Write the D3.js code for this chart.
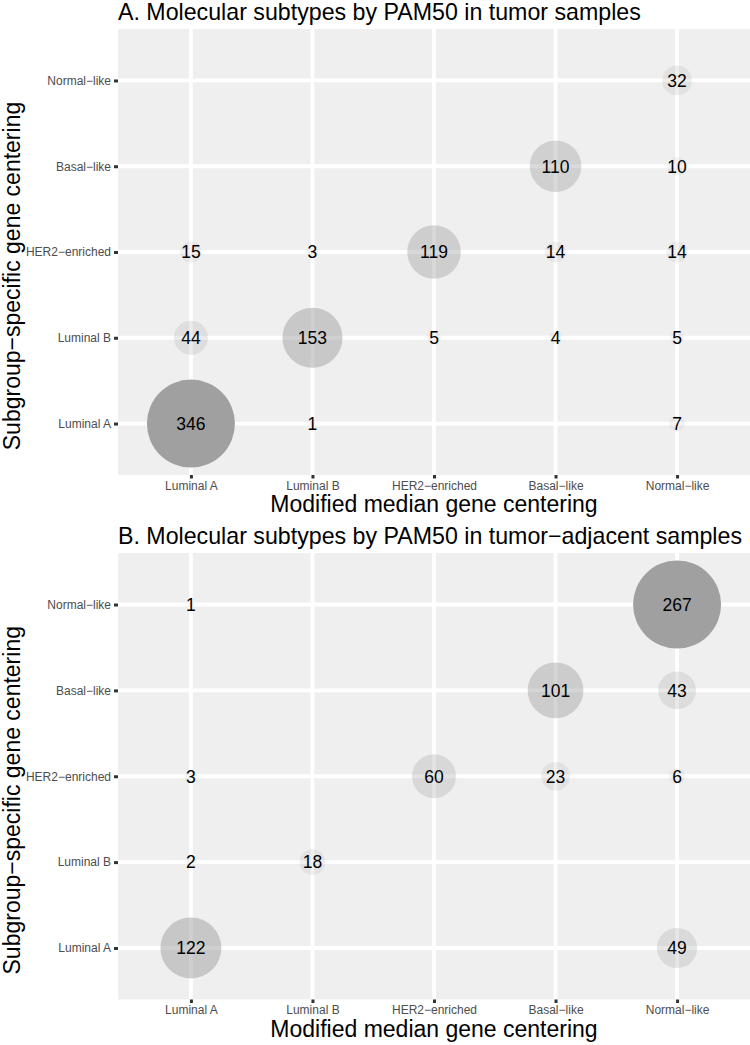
<!DOCTYPE html>
<html><head><meta charset="utf-8">
<script src="https://cdn.jsdelivr.net/npm/d3@7/dist/d3.min.js"></script>
<style>body{margin:0;background:#fff}svg{display:block}</style>
</head><body>
<script>
const categories = ["Luminal A", "Luminal B", "HER2\u2212enriched", "Basal\u2212like", "Normal\u2212like"];
const titles = ["A. Molecular subtypes by PAM50 in tumor samples",
                "B. Molecular subtypes by PAM50 in tumor\u2212adjacent samples"];
const xTitle = "Modified median gene centering";
const yTitle = "Subgroup\u2212specific gene centering";
// [x category index, y category index, count]
const tumorCounts = [
  [0,0,346],[1,0,1],[4,0,7],
  [0,1,44],[1,1,153],[2,1,5],[3,1,4],[4,1,5],
  [0,2,15],[1,2,3],[2,2,119],[3,2,14],[4,2,14],
  [3,3,110],[4,3,10],
  [4,4,32]
];
const adjacentCounts = [
  [0,0,122],[4,0,49],
  [0,1,2],[1,1,18],
  [0,2,3],[2,2,60],[3,2,23],[4,2,6],
  [3,3,101],[4,3,43],
  [0,4,1],[4,4,267]
];

const W = 750, H = 1045;
const FONT = "'Liberation Sans', Arial, Helvetica, sans-serif";
const svg = d3.select("body").append("svg").attr("width", W).attr("height", H)
  .style("font-family", FONT);

function panel(data, title, top, bottom, xTitleOffset) {
  const left = 118, right = 750;
  const x = d3.scalePoint().domain(categories).range([left, right]).padding(0.6);
  const y = d3.scalePoint().domain(categories).range([bottom, top]).padding(0.6);
  const g = svg.append("g");
  g.append("rect").attr("x", left).attr("y", top).attr("width", right-left).attr("height", bottom-top).attr("fill", "#efefef");
  g.selectAll(".gx").data(categories).join("line")
    .attr("x1", d => x(d)).attr("x2", d => x(d)).attr("y1", top).attr("y2", bottom)
    .attr("stroke", "#fff").attr("stroke-width", 3.8);
  g.selectAll(".gy").data(categories).join("line")
    .attr("y1", d => y(d)).attr("y2", d => y(d)).attr("x1", left).attr("x2", right)
    .attr("stroke", "#fff").attr("stroke-width", 3.8);

  const xa = g.append("g").attr("transform", `translate(0,${bottom})`)
    .call(d3.axisBottom(x).tickSize(3.5).tickPadding(2.5));
  const ya = g.append("g").attr("transform", `translate(${left},0)`)
    .call(d3.axisLeft(y).tickSize(4).tickPadding(3));
  [xa, ya].forEach(a => {
    a.select(".domain").remove();
    a.selectAll(".tick line").attr("stroke", "#333").attr("stroke-width", 3);
    a.selectAll(".tick text").attr("fill", "#4d4d4d").style("font-size", "12px")
      .style("font-family", FONT);
  });

  const vals = data.map(d => d[2]);
  const mn = d3.min(vals), mx = d3.max(vals);
  const r = d3.scaleSqrt().domain([0, mx - mn]).range([2.4, 44]);
  const op = d3.scaleLinear().domain([mn, mx]).range([0.1, 1]);
  g.selectAll("circle.pt").data(data).join("circle")
    .attr("cx", d => x(categories[d[0]])).attr("cy", d => y(categories[d[1]]))
    .attr("r", d => r(d[2] - mn)).attr("fill", "#a0a0a0").attr("fill-opacity", d => op(d[2]));
  g.selectAll("text.lbl").data(data).join("text")
    .attr("x", d => x(categories[d[0]])).attr("y", d => y(categories[d[1]]))
    .attr("text-anchor", "middle").attr("dy", "0.36em").style("font-size", "17.5px").attr("fill", "#000")
    .text(d => d[2]);

  g.append("text").attr("x", left).attr("y", top - 9).style("font-size", "23.2px").text(title);
  g.append("text").attr("x", (left+right)/2).attr("y", bottom + xTitleOffset).attr("text-anchor", "middle")
    .style("font-size", "23px").text(xTitle);
  g.append("text").attr("transform", `translate(19.5,${(top+bottom)/2 + 24}) rotate(-90)`)
    .attr("text-anchor", "middle").style("font-size", "23px").text(yTitle);
}
panel(tumorCounts, titles[0], 29, 475, 37);
panel(adjacentCounts, titles[1], 553, 999.5, 37);
</script>
</body></html>
